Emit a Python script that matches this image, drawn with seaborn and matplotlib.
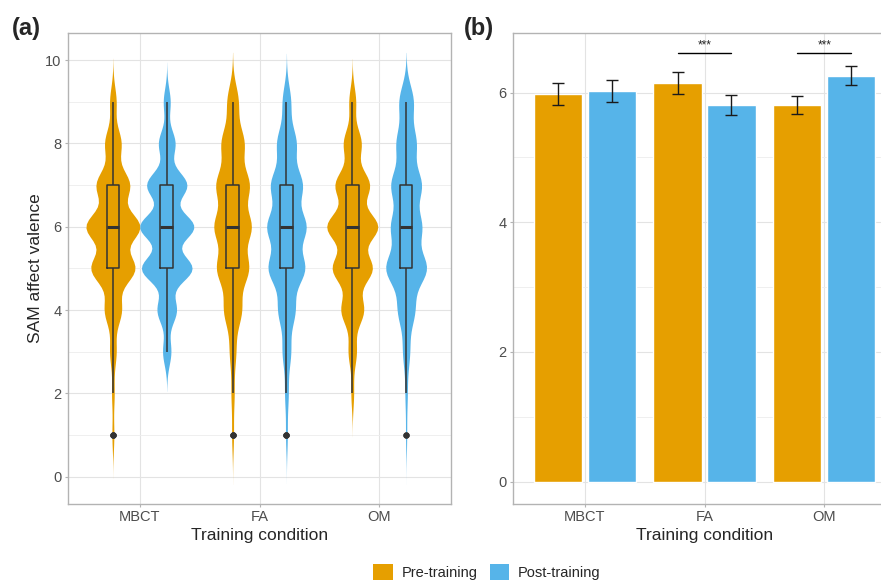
import numpy as np
import pandas as pd
import matplotlib.pyplot as plt
import seaborn as sns
from matplotlib.patches import Patch

conditions = ['MBCT', 'FA', 'OM']
sessions = ['Pre-training', 'Post-training']
colors = ['#E69F00', '#56B4E9']

# number of responses per SAM rating (1..9)
ratings = np.arange(1, 10)
mbct_pre = [3, 4, 10, 26, 67, 82, 51, 25, 10]
mbct_post = [0, 0, 12, 28, 73, 78, 58, 24, 10]
fa_pre = [3, 5, 10, 28, 50, 58, 52, 36, 18]
fa_post = [3, 6, 14, 28, 60, 64, 52, 32, 14]
om_pre = [0, 4, 12, 33, 58, 74, 50, 26, 10]
om_post = [2, 4, 12, 29, 70, 52, 52, 34, 25]

# panel (b): mean valence and standard error
mean_pre = [5.98, 6.15, 5.81]
mean_post = [6.03, 5.81, 6.26]
se_pre = [0.165, 0.17, 0.14]
se_post = [0.17, 0.16, 0.15]
sig_conditions = ['FA', 'OM']
sig_label = '***'
sig_y = 6.61

sns.set_theme(style='whitegrid')
plt.rcParams['font.family'] = ['Liberation Sans', 'DejaVu Sans']

palette = dict(zip(sessions, colors))
dark = {s: '#333333' for s in sessions}

# long table of individual ratings
rows = []
groups = {('MBCT', 'Pre-training'): mbct_pre, ('MBCT', 'Post-training'): mbct_post,
          ('FA', 'Pre-training'): fa_pre, ('FA', 'Post-training'): fa_post,
          ('OM', 'Pre-training'): om_pre, ('OM', 'Post-training'): om_post}
for (cond, sess), cnt in groups.items():
    vals = np.repeat(ratings, cnt)
    rows.append(pd.DataFrame({'condition': cond, 'session': sess, 'valence': vals}))
df = pd.concat(rows, ignore_index=True)

df_bar = pd.DataFrame({
    'condition': conditions * 2,
    'session': [sessions[0]] * 3 + [sessions[1]] * 3,
    'mean': mean_pre + mean_post,
})
ses = {sessions[0]: se_pre, sessions[1]: se_post}

fig = plt.figure(figsize=(8.81, 5.81), dpi=100)
ax1 = fig.add_axes([68 / 881, 77 / 581, 383 / 881, 471 / 581])
ax2 = fig.add_axes([513 / 881, 77 / 581, 383 / 881, 471 / 581])

# (a) violins with boxplots
sns.violinplot(data=df, x='condition', y='valence', hue='session',
               order=conditions, hue_order=sessions, palette=palette,
               inner=None, cut=3, bw_method=0.23, density_norm='area',
               width=0.9, gap=0, linewidth=0, saturation=1, legend=False, ax=ax1)
sns.boxplot(data=df, x='condition', y='valence', hue='session',
            order=conditions, hue_order=sessions, palette=dark, fill=False,
            width=0.9, gap=0.767, whis=1.5, showcaps=False, linewidth=1.1,
            flierprops=dict(marker='o', markersize=3.5, markerfacecolor='#333333',
                            markeredgecolor='#333333'),
            medianprops=dict(linewidth=2.2), legend=False, ax=ax1)
ax1.set_ylim(-0.655, 10.65)
ax1.set_yticks([0, 2, 4, 6, 8, 10])
ax1.set_yticks([1, 3, 5, 7, 9], minor=True)
ax1.set_ylabel('SAM affect valence', fontsize=12.5, labelpad=2)

# (b) bars with error bars
sns.barplot(data=df_bar, x='condition', y='mean', hue='session',
            order=conditions, hue_order=sessions, palette=palette,
            width=0.9, gap=0.1, saturation=1, errorbar=None, legend=False, ax=ax2)
centers = {}
for container, sess in zip(ax2.containers, sessions):
    for bar, cond, se in zip(container, conditions, ses[sess]):
        x = bar.get_x() + bar.get_width() / 2
        centers[(cond, sess)] = x
        ax2.errorbar(x, bar.get_height(), yerr=se, color='#1a1a1a',
                     capsize=4, elinewidth=1, capthick=1)
for cond in sig_conditions:
    x0, x1 = centers[(cond, sessions[0])], centers[(cond, sessions[1])]
    ax2.plot([x0, x1], [sig_y, sig_y], color='black', lw=1)
    ax2.text((x0 + x1) / 2, sig_y + 0.07, sig_label, ha='center', va='baseline',
             fontsize=8.5)
ax2.set_ylim(-0.347, 6.92)
ax2.set_yticks([0, 2, 4, 6])
ax2.set_yticks([1, 3, 5], minor=True)
ax2.set_ylabel('')

for ax in (ax1, ax2):
    ax.set_xlim(-0.6, 2.6)
    ax.set_xlabel('Training condition', fontsize=12.5, labelpad=3)
    ax.grid(True, which='major', color='#E3E3E3', lw=0.8)
    ax.grid(True, which='minor', axis='y', color='#EDEDED', lw=0.6)
    ax.set_axisbelow(True)
    ax.set_facecolor('white')
    for sp in ax.spines.values():
        sp.set_visible(True)
        sp.set_color('#B3B3B3')
        sp.set_linewidth(1)
    ax.tick_params(which='major', length=2.5, width=0.8, color='#B3B3B3',
                   labelsize=10.5, labelcolor='#4D4D4D', pad=2)
    ax.tick_params(which='minor', length=0)
    ax.tick_params(axis='both', which='both', left=True, bottom=True)

fig.text(12 / 881, 1 - 28 / 581, '(a)', fontsize=17, fontweight='bold', va='center')
fig.text(464 / 881, 1 - 28 / 581, '(b)', fontsize=17, fontweight='bold', va='center')

handles = [Patch(facecolor=c, edgecolor='none', label=s) for s, c in zip(sessions, colors)]
fig.legend(handles=handles, loc='center', bbox_to_anchor=(487 / 881, 9 / 581),
           ncol=2, frameon=False, fontsize=10.5, handlelength=1.35, handleheight=1.35,
           handletextpad=0.6, columnspacing=0.8, borderpad=0)

fig.savefig('out.png', dpi=100)
